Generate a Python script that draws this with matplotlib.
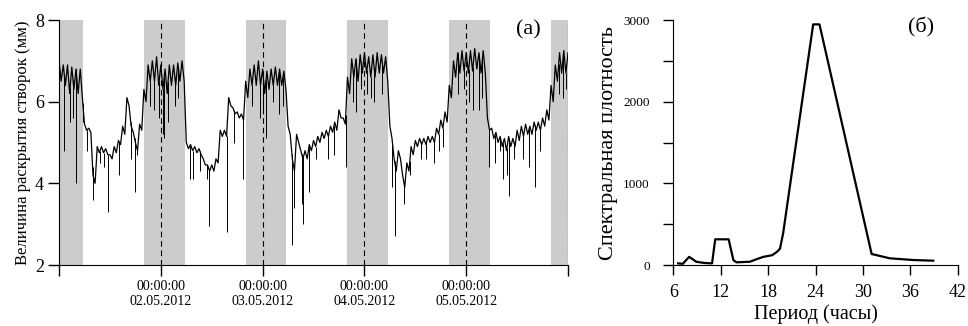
import matplotlib.pyplot as plt
import numpy as np

plt.rcParams['font.family'] = ['Liberation Serif', 'DejaVu Serif']

# Раскрытие створок (мм), почасовые значения с 01.05.2012 00:00:
# верхний и нижний край основной полосы колебаний
upper = [7.0, 6.9, 6.9, 6.85, 6.8, 6.8, 5.45, 5.35, 4.2, 4.9,
         4.9, 4.85, 4.7, 4.9, 5.05, 5.4, 6.1, 5.4, 5.0, 5.45,
         6.3, 6.9, 7.0, 7.1, 6.9, 6.8, 6.9, 6.9, 6.95, 7.0,
         5.0, 4.95, 4.9, 4.85, 4.6, 4.45, 4.45, 4.6, 5.3, 5.3,
         6.1, 5.85, 5.75, 5.7, 6.5, 6.8, 6.9, 7.0, 6.8, 6.75,
         6.8, 6.85, 6.8, 6.75, 5.4, 4.6, 5.2, 4.8, 4.8, 4.95,
         5.05, 5.15, 5.25, 5.3, 5.4, 5.5, 5.8, 5.6, 6.6, 7.05,
         7.05, 7.15, 7.2, 7.1, 7.15, 7.2, 7.15, 7.1, 5.4, 4.6,
         4.8, 4.2, 4.5, 4.9, 5.05, 5.1, 5.1, 5.15, 5.15, 5.35,
         5.55, 5.75, 6.4, 7.0, 7.2, 7.25, 7.2, 7.25, 7.3, 7.2,
         7.25, 5.6, 5.35, 5.25, 5.15, 5.1, 5.15, 5.1, 5.3, 5.4,
         5.45, 5.4, 5.5, 5.5, 5.6, 5.8, 6.4, 6.9, 7.2, 7.25]
lower = [6.5, 6.4, 6.2, 6.3, 6.2, 6.1, 5.3, 5.25, 4.0, 4.75,
         4.75, 4.7, 4.6, 4.75, 4.95, 5.2, 5.9, 5.25, 4.8, 5.3,
         6.0, 6.5, 6.5, 6.4, 6.3, 6.2, 6.4, 6.4, 6.5, 6.5,
         4.85, 4.8, 4.75, 4.7, 4.45, 4.3, 4.3, 4.5, 5.15, 5.15,
         5.9, 5.7, 5.6, 5.55, 6.1, 6.4, 6.4, 6.4, 6.2, 6.3,
         6.4, 6.4, 6.4, 6.3, 5.2, 4.3, 5.0, 4.6, 4.6, 4.8,
         4.9, 5.0, 5.1, 5.15, 5.25, 5.3, 5.6, 5.45, 6.2, 6.6,
         6.5, 6.7, 6.7, 6.6, 6.6, 6.7, 6.7, 6.5, 5.1, 4.3,
         4.6, 3.9, 4.3, 4.7, 4.9, 4.95, 4.95, 5.0, 5.0, 5.2,
         5.35, 5.5, 6.1, 6.6, 6.7, 6.75, 6.7, 6.75, 6.8, 6.7,
         6.7, 5.3, 5.1, 5.0, 4.9, 4.8, 4.9, 4.9, 5.05, 5.15,
         5.2, 5.2, 5.3, 5.3, 5.4, 5.55, 6.0, 6.5, 6.7, 6.7]
end_value = 7.2

# Кратковременные смыкания створок: время (ч) и минимум (мм)
spike_hours = [1.25, 2.6, 3.3, 4.0, 5.6, 6.5, 7.9, 9.6, 10.5, 11.6, 14.2, 16.9,
               17.8, 18.3, 21.5, 22.5, 23.6, 24.5, 24.8, 25.7, 27.3, 28.1,
               30.8, 31.5, 33.2, 34.9, 35.4, 39.5, 41.2, 43.4, 45.5, 47.4,
               48.2, 48.8, 50.5, 51.9, 52.8, 54.9, 55.3, 57.2, 57.6, 58.9,
               60.5, 63.5, 64.8, 67.6, 69.3, 70.0, 71.2, 72.6, 73.5, 74.3,
               76.2, 78.6, 79.1, 81.3, 82.7, 85.3, 86.6, 88.3, 89.5, 90.5,
               94.0, 95.4, 96.6, 97.6, 99.1, 99.8, 101.4, 102.8, 103.9, 104.7,
               105.6, 106.2, 107.2, 109.5, 110.8, 112.2, 113.5, 117.8, 118.9, 119.5]
spike_values = [4.8, 5.5, 5.6, 4.0, 5.5, 4.8, 3.6, 4.5, 4.4, 3.3, 4.2, 4.6,
                3.8, 4.7, 5.9, 5.8, 5.6, 5.2, 5.1, 5.5, 5.9, 6.1,
                4.1, 4.1, 4.3, 4.1, 2.95, 2.8, 5.0, 4.1, 5.9, 5.6,
                5.8, 5.1, 6.0, 5.7, 5.9, 2.5, 3.4, 3.5, 3.0, 3.8,
                4.6, 4.6, 4.7, 4.4, 6.0, 5.75, 6.3, 6.2, 6.1, 6.0,
                6.2, 3.9, 2.7, 3.5, 4.2, 4.6, 4.6, 4.5, 4.8, 4.9,
                6.2, 6.3, 6.0, 5.8, 5.8, 6.1, 4.4, 4.5, 4.8, 4.1,
                4.2, 3.7, 4.6, 4.6, 4.4, 3.9, 4.8, 6.2, 6.1, 6.3]

# Тёмное время суток (часы от начала записи)
nights = [(0, 5.6), (20, 29.6), (44, 53.6), (68, 77.6), (92, 101.6), (116, 120)]
midnights = [24, 48, 72, 96, 120]
day_labels = ['02.05.2012', '03.05.2012', '04.05.2012', '05.05.2012']

# Спектр
period = [6.6, 7.2, 8.0, 8.9, 9.9, 10.9, 11.3, 13.0, 13.6, 14.0, 15.7, 16.5,
          17.4, 18.5, 19.1, 19.5, 19.9, 23.7, 24.5, 31.1, 33.4, 36.4, 38.9]
density = [20, 15, 100, 40, 25, 20, 315, 315, 60, 33, 40, 70,
           100, 120, 160, 200, 390, 2950, 2950, 135, 82, 61, 53]

# запись: максимум в начале часа, минимум в середине
hours = np.arange(len(upper))
t = np.append(np.column_stack([hours, hours + 0.5]).ravel(), len(upper))
v = np.append(np.column_stack([upper, lower]).ravel(), end_value)

fig = plt.figure(figsize=(9.68, 3.26), dpi=100)

# (а) временной ряд
ax = fig.add_axes([0.0610, 0.1871, 0.5258, 0.7515])
for a, b in nights:
    ax.axvspan(a, b, color='#cccccc', lw=0, zorder=0)
for m in midnights:
    ax.axvline(m, color='black', lw=0.8, dashes=(5, 3.5), zorder=1)
ax.plot(t, v, color='black', lw=0.9, zorder=2)
spike_top = np.interp(spike_hours, t, v)
ax.vlines(spike_hours, spike_values, spike_top, color='black', lw=0.7, zorder=2)
ax.set_xlim(0, 120)
ax.set_ylim(2, 8)
ax.set_yticks([2, 4, 6, 8])
ax.set_xticks([0, 24, 48, 72, 96, 120])
ax.set_xticklabels([''] + ['00:00:00\n' + d for d in day_labels] + [''])
ax.tick_params(axis='x', labelsize=10, length=8, width=1, direction='out', pad=3)
ax.tick_params(axis='y', labelsize=13, length=8, width=1, direction='out', pad=3)
ax.set_ylabel('Величина раскрытия створок (мм)', fontsize=12, labelpad=3)
ax.text(0.923, 1.0, '(a)', transform=ax.transAxes, fontsize=16, ha='center', va='top')
for side in ['top', 'right']:
    ax.spines[side].set_visible(False)

# (б) спектральная плотность
ax2 = fig.add_axes([0.6956, 0.1871, 0.2938, 0.7506])
ax2.plot(period, density, color='black', lw=1.6)
ax2.set_xlim(6, 42)
ax2.set_ylim(0, 3000)
ax2.set_xticks([6, 12, 18, 24, 30, 36, 42])
ax2.set_yticks([0, 500, 1000, 1500, 2000, 2500, 3000])
ax2.set_yticklabels(['0', '', '1000', '', '2000', '', '3000'])
ax2.tick_params(axis='x', labelsize=13, length=7, width=1, pad=7)
ax2.tick_params(axis='y', labelsize=9.5, length=7, width=1, pad=10)
ax2.set_xlabel('Период (часы)', fontsize=14.5, labelpad=2)
ax2.set_ylabel('Спектральная плотность', fontsize=16, labelpad=4)
ax2.text(0.87, 1.01, '(б)', transform=ax2.transAxes, fontsize=16, ha='center', va='top')
for side in ['top', 'right']:
    ax2.spines[side].set_visible(False)

fig.savefig('out.png', dpi=100)
